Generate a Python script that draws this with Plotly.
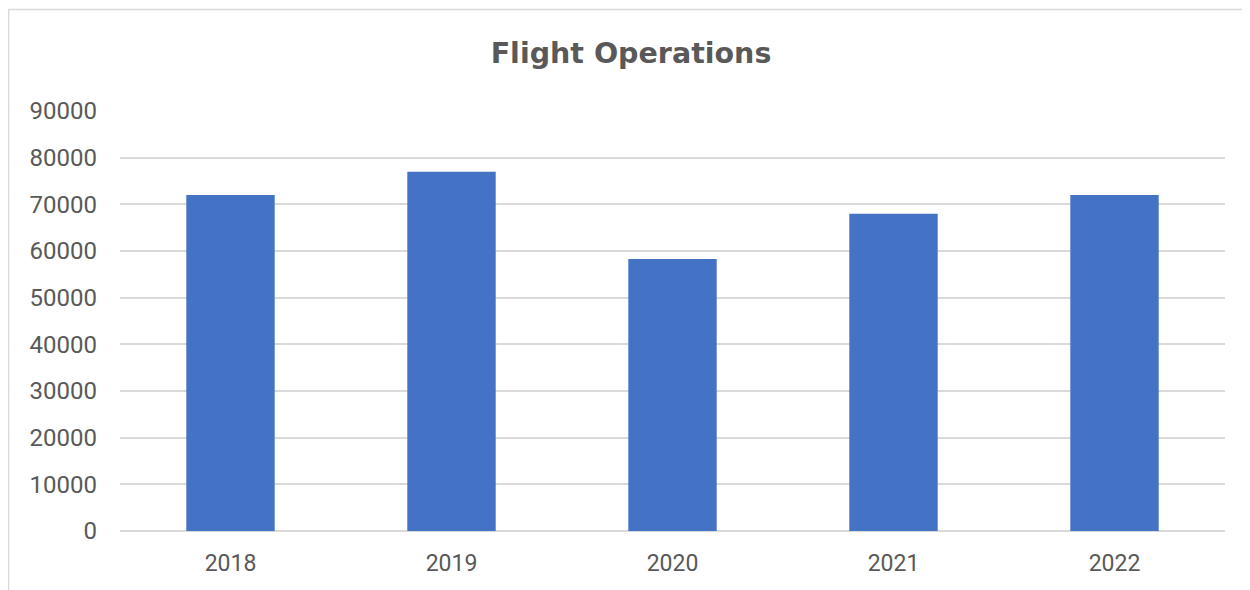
import plotly.graph_objects as go

years = ["2018", "2019", "2020", "2021", "2022"]
operations = [72000, 77000, 58300, 68000, 72000]
y_ticks = [0, 10000, 20000, 30000, 40000, 50000, 60000, 70000, 80000, 90000]

# page body adds an 8px offset, so the figure is laid out in its own coordinates
W, H = 1242, 582
L, R, T, B = 112, 25, 103, 59
pw, ph = W - L - R, H - T - B

def px_x(px):
    return (px - L) / pw

def px_y(py):
    return (H - B - py) / ph

fig = go.Figure(go.Bar(
    x=years, y=operations, marker=dict(color="#4472C4", line=dict(width=0)),
    width=0.4,
))

fig.add_shape(type="path", xref="paper", yref="paper",
              path=f"M {px_x(0.7)} {px_y(700)} L {px_x(0.7)} {px_y(1.5)} L {px_x(1400)} {px_y(1.5)}",
              line=dict(color="#d9d9d9", width=1.3), layer="below")

fig.update_layout(
    width=W, height=H,
    margin=dict(l=L, r=R, t=T, b=B, pad=0),
    paper_bgcolor="white", plot_bgcolor="white",
    title=dict(text="<b>Flight Operations</b>", x=623 / W, xanchor="center",
               y=1 - 45 / H, yanchor="middle",
               font=dict(family="DejaVu Sans", size=28.5, color="#595959")),
    font=dict(family="Roboto", color="#595959", size=22),
    showlegend=False,
)
fig.update_xaxes(showline=False, ticks="", tickfont=dict(size=23, color="#595959"), ticklabelstandoff=16)
fig.update_yaxes(range=[0, 90000], tickvals=y_ticks, ticktext=[str(v) for v in y_ticks],
                 showgrid=True, gridcolor="#d9d9d9", gridwidth=1.5,
                 zeroline=True, zerolinecolor="#d9d9d9", zerolinewidth=1.5,
                 showline=False, ticks="", tickfont=dict(size=24, color="#595959"), ticklabelstandoff=22)

fig.write_html("out.html")
